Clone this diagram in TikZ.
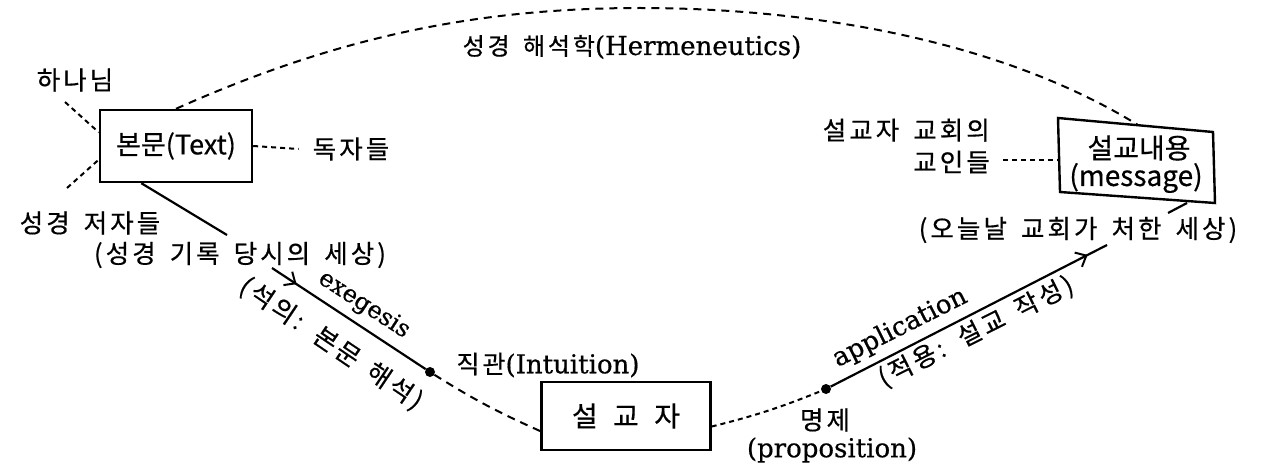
\documentclass[tikz,border=0pt]{standalone}
\usepackage{fontspec}
\newfontfamily\kr[LetterSpace=12,WordSpace=1.6,FakeBold=0.5]{Noto Sans CJK KR}
\newfontfamily\krbox[FakeBold=0.5]{Noto Sans CJK KR}
\newfontfamily\srf[FakeBold=0.6]{DejaVu Serif}
\usetikzlibrary{arrows.meta,decorations.markings}
\begin{document}
\begin{tikzpicture}[x=1pt,y=-1pt,
  boxst/.style={draw,line width=2.4pt,inner sep=0pt},
  krl/.style={font=\kr\fontsize{25.5}{32}\selectfont,inner sep=0pt},
  enl/.style={font=\srf\fontsize{24}{28}\selectfont,inner sep=0pt},
  dashln/.style={line width=2pt,dash pattern=on 8pt off 6pt},
  dotln/.style={line width=2pt,dash pattern=on 5pt off 4pt},
  solidln/.style={line width=2.2pt},
  dotnode/.style={circle,fill=black,inner sep=0pt,minimum size=10pt},
  midarrow/.style={decoration={markings,mark=at position #1 with {\arrow{Straight Barb[length=9pt,width=16pt,line width=2pt]}}},postaction={decorate}}
]
\useasboundingbox (0,0) rectangle (1274,468);

% main boxes
\node[boxst,minimum width=152pt,minimum height=72pt,font=\krbox\fontsize{27}{30}\selectfont] (tb) at (176,146) {본문(Text)};
\node[boxst,minimum width=169pt,minimum height=68pt,font=\krbox\fontsize{28}{30}\selectfont] (pb) at (626,416) {설\hspace{0.55em}교\hspace{0.55em}자};

% message box (slightly skewed)
\coordinate (m1) at (1058,118);
\coordinate (m2) at (1213,132);
\coordinate (m3) at (1215,203);
\coordinate (m4) at (1060,192);
\draw[line width=2.4pt,line join=miter] (m1) -- (m2) -- (m3) -- (m4) -- cycle;
\node[font=\krbox\fontsize{28}{30}\selectfont,inner sep=0pt] (msga) at (1139,148) {설교내용};
\node[font=\krbox\fontsize{28}{30}\selectfont,inner sep=0pt] (msgb) at (1136,178) {(message)};

% labels
\node[krl] (god) at (75,80) {하나님};
\node[krl] (readers) at (351,149) {독자들};
\node[krl] (authors) at (90,223) {성경 저자들};
\node[krl] (authworld) at (240,255) {(성경 기록 당시의 세상)};
\node[krl,anchor=east,align=right] (church) at (990,146) {설교자 교회의\\교인들};
\node[krl] (today) at (1078,230) {(오늘날 교회가 처한 세상)};
\node[enl,font=\srf\fontsize{26}{28}\selectfont] (herm) at (632,47) {{\kr\fontsize{24}{26}\selectfont 성경 해석학}(Hermeneutics)};
\node[enl,font=\srf\fontsize{26}{28}\selectfont] (intu) at (548,365) {{\kr\fontsize{25}{26}\selectfont 직관}(Intuition)};
\node[krl] (prop1) at (825,420) {명제};
\node[enl,font=\srf\fontsize{26}{28}\selectfont] (prop2) at (832,450) {(proposition)};

% dots
\node[dotnode] (d1) at (430,372) {};
\node[dotnode] (d2) at (826,389) {};

% rotated labels
\node[enl,rotate=-33] (exeg) at (364,305) {exegesis};
\node[krl,rotate=-34] (seogui) at (331,344) {(석의: 본문 해석)};
\node[enl,font=\srf\fontsize{26}{28}\selectfont,rotate=26.7] (appl) at (900,328) {application};
\node[krl,rotate=26.7] (jeok) at (976,332) {(적용: 설교 작성)};

% free ends
\coordinate (g1) at (65,102);
\coordinate (a1) at (67,188);
\coordinate (t1) at (227,235);
\coordinate (e0) at (272,268);
\coordinate (e1) at (1107,245);
\coordinate (c1) at (1003,160);
\coordinate (c2) at (1059,160);
\coordinate (s1) at (1187,203);
\coordinate (s2) at (1168,213);
\coordinate (mt) at (1138,125);
\coordinate (top) at (640,8);

% connectors
\draw[dotln] (g1) -- (tb.170);
\draw[dotln] (a1) -- (tb.190);
\draw[dotln] (tb.east) -- ([xshift=-14pt]readers.west);
\draw[solidln] (tb.227) -- (t1);
\draw[solidln,midarrow=0.16] (e0) -- (d1);
\draw[dashln] (d1) to[bend right=4] (pb.190);
\draw[dotln] (pb.353) to[bend right=4] (d2);
\draw[solidln,midarrow=0.93] (d2) -- (e1);
\draw[dotln] (c1) -- (c2);
\draw[solidln] (s1) -- (s2);
\draw[dashln] (tb.north) .. controls (330,40) and (470,8) .. (top)
  .. controls (810,8) and (1000,40) .. (mt);
\end{tikzpicture}
\end{document}
